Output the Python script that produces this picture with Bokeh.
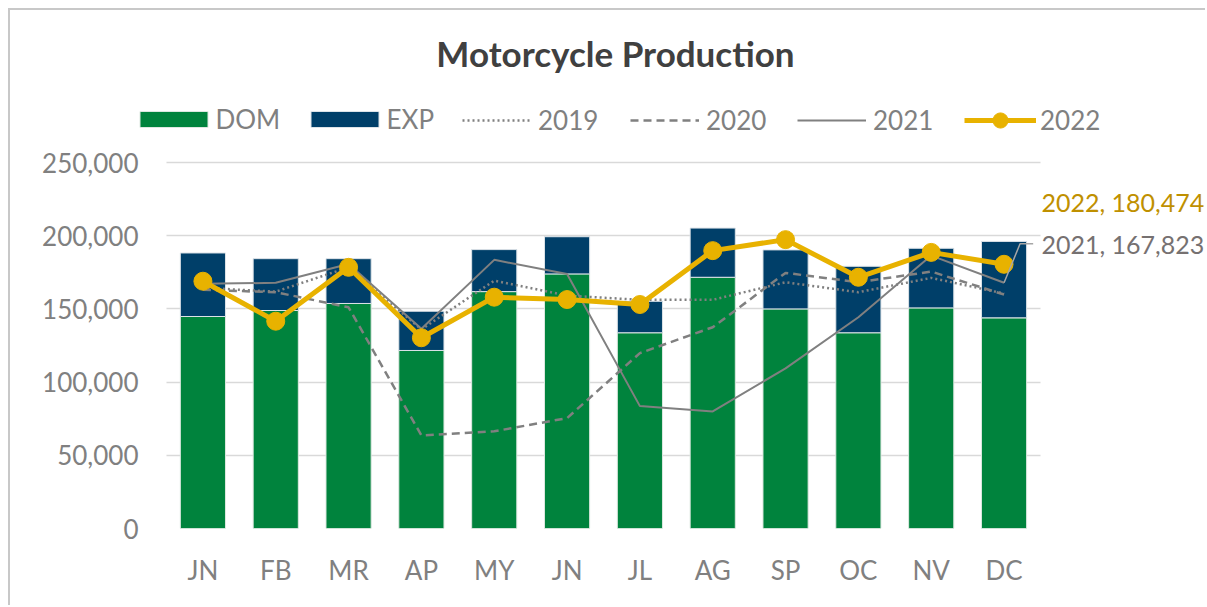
from bokeh.plotting import figure
from bokeh.models import (Range1d, FixedTicker, NumeralTickFormatter, Legend,
                          LegendItem, Label, ColumnDataSource)
from bokeh.embed import file_html
from bokeh.resources import INLINE

# ---------------- data ----------------
months = ["JN", "FB", "MR", "AP", "MY", "JN", "JL", "AG", "SP", "OC", "NV", "DC"]
dom = [144800, 148900, 153700, 121600, 161800, 173900, 133700, 171600, 150000, 133700, 150700, 143900]
exp = [43400, 35400, 30600, 26800, 28700, 25400, 21500, 33600, 40300, 45400, 40700, 52200]
y2019 = [164400, 161800, 178400, 136000, 169300, 159100, 156200, 156200, 168200, 161400, 171200, 160500]
y2020 = [163000, 161400, 151100, 63600, 66400, 75400, 119800, 137500, 174600, 168200, 175500, 159800]
y2021 = [167100, 167800, 180700, 136400, 183500, 173900, 83600, 80000, 109400, 144300, 186400, 167823]
y2022 = [168900, 141600, 178400, 130300, 158000, 156400, 153000, 189800, 197300, 171600, 188600, 180474]
y_ticks = [0, 50000, 100000, 150000, 200000, 250000]

# ---------------- style ----------------
FONT = "Lato"
GRAY = "#808080"
GREEN = "#00833D"
NAVY = "#003F69"
GOLD = "#E8B200"
LINEGRAY = "#808080"
FS = "26px"

xs = list(range(len(months)))
top = [d + e for d, e in zip(dom, exp)]
src = ColumnDataSource(dict(x=xs, dom=dom, top=top, y2019=y2019, y2020=y2020,
                            y2021=y2021, y2022=y2022))

# layout (pixels). The plot frame spans the whole chart area so that the
# title, legend and end labels are not clipped; the category area is a part of it.
W, H = 1197, 597
ML, MR, MT, MB = 124, 0, 10, 79
FW, FH = W - ML - MR, H - MT - MB
UNIT = 72.83            # px per category
PLOT_L = 32             # px between frame left and the category area
PLOT_R = FW - PLOT_L - UNIT * len(months)
PLOT_TOP = 142          # px from frame top down to the top tick
YMAX = y_ticks[-1]
x0 = -0.5 - PLOT_L / UNIT
x1 = len(months) - 0.5 + PLOT_R / UNIT
y1 = YMAX * FH / (FH - PLOT_TOP)

p = figure(width=W, height=H, output_backend="svg", toolbar_location=None, title=None,
           x_range=Range1d(x0, x1), y_range=Range1d(0, y1),
           min_border_left=ML, min_border_right=MR, min_border_top=MT, min_border_bottom=MB,
           styles={"margin-left": "8px", "margin-top": "8px",
                   "border-left": "2px solid #C8C8C8", "border-top": "2px solid #C8C8C8"})
p.outline_line_color = None
p.background_fill_color = "white"
p.border_fill_color = "white"

# gridlines limited to the category area
p.xgrid.grid_line_color = None
p.ygrid.grid_line_color = "#D9D9D9"
p.ygrid.grid_line_width = 1.5
p.ygrid.cross_bounds = (-0.5, len(months) - 0.5)

# bars
bar_dom = p.vbar(x="x", bottom=0, top="dom", width=0.62, fill_color=GREEN,
                 line_color="#DDE8E0", line_width=1, source=src)
bar_exp = p.vbar(x="x", bottom="dom", top="top", width=0.62, fill_color=NAVY,
                 line_color="#DDE3E8", line_width=1, source=src)

# lines
r19 = p.line("x", "y2019", source=src, line_color=LINEGRAY, line_width=2.5, line_dash="2 3")
r20 = p.line("x", "y2020", source=src, line_color=LINEGRAY, line_width=2.5, line_dash="8 5")
r21 = p.line("x", "y2021", source=src, line_color=LINEGRAY, line_width=2)
r22 = p.line("x", "y2022", source=src, line_color=GOLD, line_width=5)
r22m = p.scatter("x", "y2022", source=src, size=18, fill_color=GOLD, line_color=GOLD)

# leader line + data labels at last point
px_to_val = YMAX / (FH - PLOT_TOP)
lab21_y = y2021[-1] + 39 * px_to_val
lab22_y = y2022[-1] + 62 * px_to_val
xl = xs[-1]
p.line([xl, xl + 0.22, xl + 0.4], [y2021[-1], lab21_y, lab21_y],
       line_color="#A6A6A6", line_width=1.5)
p.add_layout(Label(x=xl + 0.5, y=lab22_y, x_offset=1, text=f"2022, {y2022[-1]:,}",
                   text_align="left", text_baseline="middle", text_font=FONT,
                   text_font_size="25px", text_color="#BF9000"))
p.add_layout(Label(x=xl + 0.5, y=lab21_y, x_offset=1, text=f"2021, {y2021[-1]:,}",
                   text_align="left", text_baseline="middle", text_font=FONT,
                   text_font_size="25px", text_color="#767171"))

# title
p.add_layout(Label(x=(len(months) - 1) / 2, y=YMAX, x_offset=12, y_offset=110,
                   text="Motorcycle Production", text_align="center", text_baseline="middle",
                   text_font=FONT, text_font_style="bold", text_font_size="35px",
                   text_color="#404040"))

# axes
p.xaxis.ticker = FixedTicker(ticks=xs)
p.xaxis.major_label_overrides = {i: m for i, m in enumerate(months)}
p.yaxis.ticker = FixedTicker(ticks=y_ticks)
p.yaxis.formatter = NumeralTickFormatter(format="0,0")
for ax in (p.xaxis, p.yaxis):
    ax.axis_line_color = None
    ax.major_tick_line_color = None
    ax.minor_tick_line_color = None
    ax.major_label_text_font = FONT
    ax.major_label_text_font_size = FS
    ax.major_label_text_color = GRAY
p.yaxis.major_label_standoff = -10
p.xaxis.major_label_standoff = 19

# legends (one per item, positioned like the original)
ROW = FH - PLOT_TOP + 42   # legend row centre, px above frame bottom

def add_leg(label, renderers, vx, gw, gh, standoff, h):
    leg = Legend(items=[LegendItem(label=label, renderers=renderers)],
                 location=(vx, ROW - h / 2), orientation="horizontal",
                 glyph_width=gw, glyph_height=gh, label_standoff=standoff,
                 padding=0, margin=0, spacing=0, border_line_color=None,
                 background_fill_alpha=0, label_text_font=FONT,
                 label_text_font_size=FS, label_text_color=GRAY,
                 label_height=gh)
    p.add_layout(leg)

add_leg("DOM", [bar_dom], -3.5, 85, 20, 0, 30)
add_leg("EXP", [bar_exp], 167.5, 85, 20, 0, 30)
add_leg("2019", [r19], 328, 69, 38, 7, 38)
add_leg("2020", [r20], 496, 69, 38, 7, 38)
add_leg("2021", [r21], 663, 69, 38, 7, 38)
add_leg("2022", [r22, r22m], 830, 72, 38, 4, 38)

open("out.html", "w").write(file_html(p, INLINE))
